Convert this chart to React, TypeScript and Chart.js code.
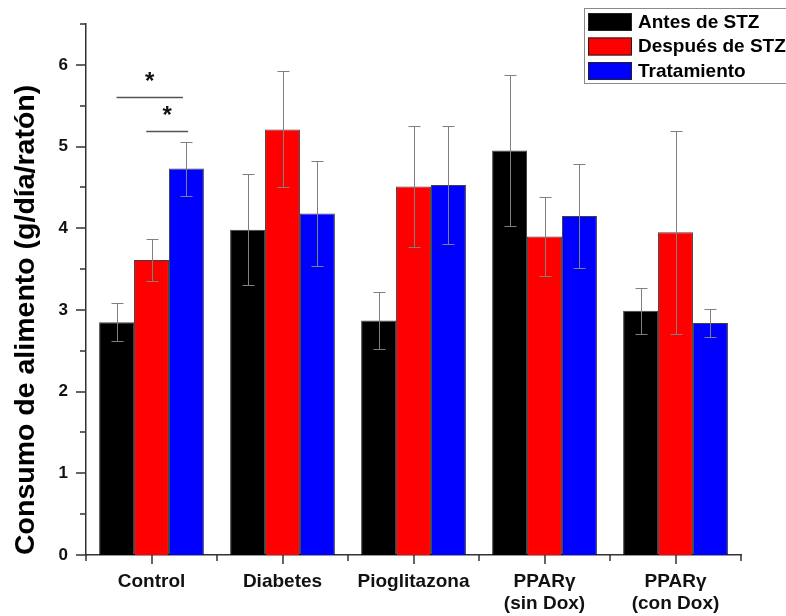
import React, { useEffect, useRef } from 'react';
import { Chart, registerables } from 'chart.js';

Chart.register(...registerables);

// ---------- data ----------
const categories: string[][] = [
  ['Control'],
  ['Diabetes'],
  ['Pioglitazona'],
  ['PPARγ', '(sin Dox)'],
  ['PPARγ', '(con Dox)'],
];
const seriesNames = ['Antes de STZ', 'Después de STZ', 'Tratamiento'];
const antes = [2.85, 3.98, 2.87, 4.95, 2.99];
const antesErr = [0.23, 0.68, 0.35, 0.92, 0.28];
const despues = [3.61, 5.21, 4.51, 3.9, 3.95];
const despuesErr = [0.26, 0.71, 0.74, 0.48, 1.24];
const tratamiento = [4.73, 4.18, 4.53, 4.15, 2.84];
const tratamientoErr = [0.33, 0.64, 0.72, 0.64, 0.17];
const yMin = 0;
const yMax = 6.5;
const yStep = 1;
const yTitle = 'Consumo de alimento (g/día/ratón)';
// significance brackets (Control group)
const sigFrom = [0, 1];
const sigTo = [2, 2];
const sigLineY = [5.61, 5.19];
const sigStarY = [5.85, 5.43];

const colors = ['#000000', '#ff0000', '#0000ff'];
const errs = [antesErr, despuesErr, tratamientoErr];
const FONT = "'Liberation Sans', Arial, sans-serif";
const AXIS = '#333333';

const errorBarPlugin = {
  id: 'errorBars',
  afterDatasetsDraw(chart: any) {
    const ctx = chart.ctx;
    const y = chart.scales.y;
    ctx.save();
    ctx.strokeStyle = '#808080';
    ctx.lineWidth = 1;
    chart.data.datasets.forEach((ds: any, di: number) => {
      const meta = chart.getDatasetMeta(di);
      meta.data.forEach((bar: any, i: number) => {
        const v = ds.data[i];
        const e = errs[di][i];
        const x = Math.round(bar.x) + 0.5;
        const yt = Math.round(y.getPixelForValue(v + e)) + 0.5;
        const yb = Math.round(y.getPixelForValue(v - e)) + 0.5;
        const cap = 6;
        ctx.beginPath();
        ctx.moveTo(x, yt);
        ctx.lineTo(x, yb);
        ctx.moveTo(x - cap, yt);
        ctx.lineTo(x + cap, yt);
        ctx.moveTo(x - cap, yb);
        ctx.lineTo(x + cap, yb);
        ctx.stroke();
      });
    });
    ctx.restore();
  },
};

const axisTicksPlugin = {
  id: 'axisTicks',
  afterDraw(chart: any) {
    const ctx = chart.ctx;
    const xs = chart.scales.x;
    const ys = chart.scales.y;
    const area = chart.chartArea;
    ctx.save();
    ctx.strokeStyle = AXIS;
    ctx.lineWidth = 1.5;
    ctx.beginPath();
    for (let v = yMin; v <= yMax + 1e-9; v += yStep / 2) {
      const py = Math.round(ys.getPixelForValue(v));
      const major = Math.abs(v - Math.round(v)) < 1e-9;
      const len = major ? 10 : 6;
      ctx.moveTo(area.left, py);
      ctx.lineTo(area.left - len, py);
    }
    const n = categories.length;
    const step = (area.right - area.left) / n;
    for (let i = 0; i < n; i++) {
      const px = Math.round(xs.getPixelForValue(i));
      ctx.moveTo(px, area.bottom);
      ctx.lineTo(px, area.bottom + 9);
    }
    for (let i = 0; i <= n; i++) {
      const px = Math.round(area.left + i * step);
      ctx.moveTo(px, area.bottom);
      ctx.lineTo(px, area.bottom + 6);
    }
    ctx.stroke();
    ctx.restore();
  },
};

const significancePlugin = {
  id: 'significance',
  afterDraw(chart: any) {
    const ctx = chart.ctx;
    const ys = chart.scales.y;
    ctx.save();
    ctx.strokeStyle = '#555555';
    ctx.lineWidth = 1.5;
    ctx.fillStyle = '#111111';
    ctx.font = `bold 24px ${FONT}`;
    ctx.textAlign = 'center';
    ctx.textBaseline = 'alphabetic';
    for (let k = 0; k < sigFrom.length; k++) {
      const a = chart.getDatasetMeta(sigFrom[k]).data[0];
      const b = chart.getDatasetMeta(sigTo[k]).data[0];
      const bw = b.width;
      const x1 = k === 0 ? a.x : a.x - 0.15 * bw;
      const x2 = k === 0 ? b.x - 0.1 * bw : b.x + 0.05 * bw;
      const py = Math.round(ys.getPixelForValue(sigLineY[k])) + 0.5;
      ctx.beginPath();
      ctx.moveTo(x1, py);
      ctx.lineTo(x2, py);
      ctx.stroke();
      const sy = ys.getPixelForValue(sigStarY[k]);
      ctx.fillText('*', (x1 + x2) / 2, sy + 11.5);
    }
    ctx.restore();
  },
};

const legendPlugin = {
  id: 'boxLegend',
  afterDraw(chart: any) {
    const ctx = chart.ctx;
    ctx.save();
    const bx = 584.5;
    const by = 8.5;
    ctx.strokeStyle = '#8a8a8a';
    ctx.lineWidth = 1;
    ctx.strokeRect(bx, by, 240, 75);
    ctx.font = `bold 19px ${FONT}`;
    ctx.textAlign = 'left';
    ctx.textBaseline = 'middle';
    chart.data.datasets.forEach((ds: any, i: number) => {
      const top = 13 + i * 24.5;
      ctx.fillStyle = ds.backgroundColor;
      ctx.fillRect(588, top, 44, 18);
      ctx.strokeStyle = '#222';
      ctx.strokeRect(588.5, top + 0.5, 43, 17);
      ctx.fillStyle = '#000';
      ctx.fillText(ds.label, 638, top + 9.5);
    });
    ctx.restore();
  },
};

export default function App() {
  const ref = useRef<HTMLCanvasElement | null>(null);
  useEffect(() => {
    if (!ref.current) return;
    Chart.defaults.font.family = FONT;
    const datasets = [antes, despues, tratamiento].map((d, i) => ({
      label: seriesNames[i],
      data: d,
      backgroundColor: colors[i],
      borderColor: 'rgba(0,0,0,0.75)',
      borderWidth: 1,
      borderSkipped: 'bottom' as const,
      categoryPercentage: 0.8,
      barPercentage: 1.0,
    }));
    const chart = new Chart(ref.current, {
      type: 'bar',
      data: { labels: categories, datasets },
      options: {
        responsive: false,
        maintainAspectRatio: false,
        animation: false,
        layout: { padding: { top: 24, right: 45, left: 0, bottom: 0 } },
        plugins: { legend: { display: false }, tooltip: { enabled: false } },
        scales: {
          x: {
            type: 'category',
            offset: true,
            grid: { display: false, drawTicks: false },
            border: { display: true, color: AXIS, width: 1.5 },
            ticks: {
              color: '#111',
              font: { size: 19, weight: 'bold', family: FONT },
              padding: 15,
              maxRotation: 0,
              autoSkip: false,
            },
            afterFit: (s: any) => {
              s.height = 61;
              s.paddingLeft = 0;
              s.paddingRight = 0;
            },
          },
          y: {
            min: yMin,
            max: yMax,
            grid: { display: false, drawTicks: false },
            border: { display: true, color: AXIS, width: 1.5 },
            ticks: {
              stepSize: yStep,
              includeBounds: false,
              color: '#111',
              font: { size: 17, weight: 'bold', family: FONT },
              padding: 18,
            },
            title: {
              display: true,
              text: yTitle,
              align: 'start',
              color: '#000',
              font: { size: 28.5, weight: 'bold', family: FONT },
              padding: { top: 9, bottom: 0 },
            },
            afterFit: (s: any) => {
              s.width = 86;
              s.paddingTop = 0;
              s.paddingBottom = 0;
            },
          },
        },
      },
      plugins: [errorBarPlugin, axisTicksPlugin, significancePlugin, legendPlugin],
    });
    return () => chart.destroy();
  }, []);
  return (
    <div style={{ position: 'fixed', left: 0, top: 0, width: 786, height: 616, background: '#fff' }}>
      <canvas ref={ref} width={786} height={616} style={{ display: 'block' }} />
    </div>
  );
}
